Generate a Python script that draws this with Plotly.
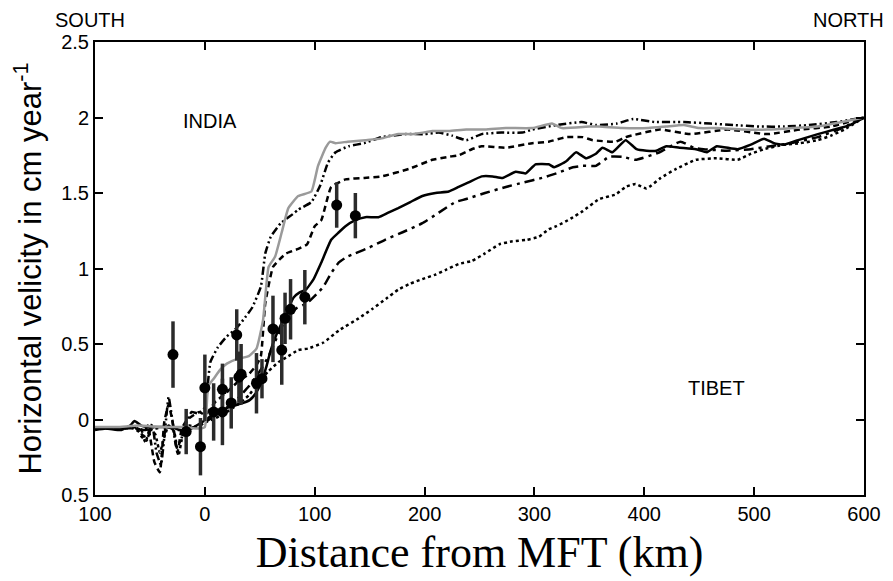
import plotly.graph_objects as go

# === Dados === #
# modelo 1 (cinza, continuo)
gray_x = [-100, -80, -60, -40, -20, -5, 0, 3, 8, 14, 20, 29, 40, 47, 53, 58, 64, 70, 76, 85, 97, 103, 110,
          114, 119, 130, 146, 160, 176, 190, 207, 222, 238, 255, 274, 298, 316, 325, 350, 359, 380, 404,
          420, 436, 450, 466, 490, 512, 535, 558, 580, 600]
gray_y = [-0.05, -0.05, -0.04, -0.05, -0.05, -0.06, -0.05, 0.22, 0.27, 0.33, 0.37, 0.40, 0.42, 0.47, 0.66,
          1.01, 1.08, 1.24, 1.40, 1.48, 1.51, 1.68, 1.80, 1.84, 1.83, 1.84, 1.85, 1.86, 1.89, 1.89, 1.91,
          1.91, 1.92, 1.92, 1.93, 1.93, 1.96, 1.93, 1.94, 1.94, 1.93, 1.93, 1.94, 1.95, 1.93, 1.93, 1.92,
          1.92, 1.93, 1.94, 1.97, 2.00]

# modelo 2 (traco-ponto-ponto)
ddd_x = [-100, -80, -65, -58, -53, -48, -44, -40, -36, -33, -30, -26, -22, -17, -12, -6, 0, 5, 12, 20, 28,
         35, 43, 51, 55, 60, 69, 80, 85, 97, 105, 112, 119, 131, 145, 161, 183, 200, 213, 225, 238, 252,
         270, 289, 298, 320, 343, 356, 375, 390, 410, 436, 460, 481, 505, 527, 550, 575, 600]
ddd_y = [-0.06, -0.06, -0.05, -0.07, -0.14, -0.03, -0.22, -0.30, -0.05, 0.15, 0.02, -0.18, -0.14, -0.02,
         0.05, 0.04, 0.08, 0.38, 0.48, 0.55, 0.60, 0.66, 0.74, 0.88, 1.10, 1.21, 1.30, 1.36, 1.39, 1.44,
         1.55, 1.70, 1.77, 1.81, 1.83, 1.87, 1.89, 1.89, 1.90, 1.88, 1.85, 1.89, 1.90, 1.90, 1.92, 1.95,
         1.97, 1.95, 1.96, 1.99, 1.97, 1.97, 1.96, 1.95, 1.94, 1.94, 1.95, 1.97, 2.00]

# modelo 3 (tracejado curto)
dash_x = [-100, -80, -62, -57, -52, -46, -41, -37, -33, -29, -25, -21, -16, -10, -5, 0, 10, 20, 30, 40, 47,
          51, 55, 62, 68, 74, 85, 93, 100, 106, 115, 128, 145, 161, 186, 207, 222, 231, 243, 252, 274,
          298, 313, 329, 344, 353, 374, 383, 414, 442, 476, 512, 542, 570, 600]
dash_y = [-0.06, -0.06, -0.06, -0.12, -0.04, -0.28, -0.35, -0.02, 0.10, -0.03, -0.22, -0.06, 0.00, 0.03,
          0.05, 0.03, 0.12, 0.18, 0.25, 0.30, 0.36, 0.42, 0.77, 1.01, 1.06, 1.10, 1.13, 1.16, 1.28, 1.32,
          1.54, 1.59, 1.60, 1.61, 1.66, 1.72, 1.74, 1.75, 1.79, 1.81, 1.80, 1.83, 1.84, 1.87, 1.87, 1.85,
          1.84, 1.87, 1.92, 1.89, 1.92, 1.89, 1.92, 1.94, 2.00]

# modelo 4 (preto, continuo)
solid_x = [-100, -90, -76, -68, -64, -58, -50, -40, -31, -18, -10, -3, 9, 18, 26, 35, 41, 46, 51, 56, 60,
           65, 70, 76, 81, 86, 92, 99, 106, 115, 122, 128, 137, 146, 158, 167, 176, 187, 198, 210, 222,
           231, 240, 252, 262, 271, 283, 292, 301, 313, 318, 329, 338, 347, 356, 362, 371, 383, 393, 402,
           411, 420, 432, 447, 457, 466, 485, 497, 509, 518, 527, 540, 558, 573, 587, 600]
solid_y = [-0.07, -0.06, -0.07, -0.04, -0.01, -0.04, -0.05, -0.05, -0.05, -0.08, -0.05, -0.02, 0.04, 0.07,
           0.09, 0.11, 0.13, 0.17, 0.24, 0.35, 0.46, 0.56, 0.64, 0.74, 0.81, 0.84, 0.86, 0.93, 1.04, 1.19,
           1.24, 1.28, 1.32, 1.34, 1.34, 1.37, 1.40, 1.44, 1.48, 1.50, 1.51, 1.54, 1.57, 1.61, 1.61, 1.60,
           1.64, 1.63, 1.69, 1.69, 1.67, 1.71, 1.77, 1.73, 1.76, 1.80, 1.77, 1.85, 1.79, 1.78, 1.78, 1.81,
           1.80, 1.79, 1.77, 1.81, 1.79, 1.82, 1.86, 1.83, 1.82, 1.85, 1.89, 1.92, 1.95, 2.00]

# modelo 5 (traco-ponto)
dd_x = [-100, -80, -65, -55, -45, -35, -25, -15, -5, 0, 10, 20, 30, 40, 50, 58, 66, 72, 78, 84, 90, 96, 103,
        108, 115, 122, 130, 137, 150, 164, 180, 198, 213, 228, 238, 255, 274, 290, 307, 320, 335, 344, 356,
        368, 380, 392, 414, 433, 445, 454, 475, 497, 515, 533, 558, 580, 600]
dd_y = [-0.06, -0.06, -0.05, -0.07, -0.06, -0.05, -0.07, -0.06, -0.04, -0.02, 0.03, 0.08, 0.14, 0.22, 0.32,
        0.42, 0.55, 0.64, 0.70, 0.74, 0.76, 0.79, 0.84, 0.88, 0.97, 1.04, 1.08, 1.10, 1.14, 1.19, 1.24, 1.30,
        1.37, 1.44, 1.46, 1.50, 1.54, 1.57, 1.60, 1.63, 1.67, 1.68, 1.68, 1.74, 1.74, 1.72, 1.77, 1.84, 1.80,
        1.79, 1.78, 1.79, 1.81, 1.83, 1.87, 1.93, 2.00]

# modelo 6 (pontilhado)
dot_x = [-100, -80, -65, -58, -54, -50, -45, -41, -37, -33, -28, -24, -20, -14, -8, 0, 10, 20, 30, 40, 49,
         58, 67, 74, 85, 94, 108, 122, 140, 152, 165, 176, 187, 198, 210, 219, 231, 243, 255, 268, 280, 293,
         304, 313, 320, 333, 344, 359, 374, 383, 392, 402, 415, 429, 447, 466, 485, 497, 509, 527, 542, 558,
         570, 582, 600]
dot_y = [-0.06, -0.06, -0.06, -0.09, -0.15, -0.06, -0.10, -0.22, -0.12, -0.04, -0.08, -0.24, -0.10, -0.04,
         -0.05, -0.02, 0.01, 0.05, 0.10, 0.16, 0.25, 0.32, 0.38, 0.41, 0.46, 0.47, 0.51, 0.59, 0.67, 0.73,
         0.80, 0.86, 0.90, 0.93, 0.96, 0.99, 1.03, 1.05, 1.10, 1.16, 1.18, 1.19, 1.21, 1.26, 1.28, 1.33, 1.38,
         1.46, 1.49, 1.54, 1.56, 1.53, 1.60, 1.66, 1.72, 1.73, 1.72, 1.76, 1.79, 1.82, 1.83, 1.85, 1.88, 1.92,
         2.00]

# observacoes GPS
obs_x = [-29, -17, -4, 0, 8, 16, 16, 24, 29, 31, 33, 47, 52, 62, 70, 73, 78, 91, 120, 137]
obs_y = [0.43, -0.08, -0.18, 0.21, 0.05, 0.05, 0.20, 0.11, 0.56, 0.28, 0.30, 0.24, 0.27, 0.60, 0.46, 0.67,
         0.73, 0.81, 1.42, 1.35]
obs_err = [0.22, 0.15, 0.19, 0.22, 0.19, 0.22, 0.17, 0.17, 0.17, 0.17, 0.20, 0.20, 0.13, 0.22, 0.23, 0.17,
           0.20, 0.18, 0.15, 0.15]

x_ticks = [-100, 0, 100, 200, 300, 400, 500, 600]
x_ticktext = ["100", "0", "100", "200", "300", "400", "500", "600"]
y_ticks = [-0.5, 0, 0.5, 1, 1.5, 2, 2.5]
y_ticktext = ["0.5", "0", "0.5", "1", "1.5", "2", "2.5"]

# === Plot === #
fig = go.Figure()

modelos = [
    (dot_x, dot_y, "black", "dot", 2.5),
    (dd_x, dd_y, "black", "10px,5px,3px,5px", 2.5),
    (dash_x, dash_y, "black", "6px,4px", 2.5),
    (ddd_x, ddd_y, "black", "8px,3px,2px,3px,2px,3px", 2.5),
    (solid_x, solid_y, "black", "solid", 2.5),
    (gray_x, gray_y, "#9a9a9a", "solid", 2.5),
]
for xs, ys, cor, dash, w in modelos:
    fig.add_trace(
        go.Scatter(
            x=xs,
            y=ys,
            mode="lines",
            line=dict(color=cor, dash=dash, width=w, shape="spline", smoothing=0.4),
            showlegend=False,
        )
    )

fig.add_trace(
    go.Scatter(
        x=obs_x,
        y=obs_y,
        mode="markers",
        marker=dict(color="black", size=11),
        error_y=dict(type="data", array=obs_err, visible=True, color="#2b2b2b", thickness=3.5, width=0),
        showlegend=False,
    )
)

fonte = "Liberation Sans, Arial, sans-serif"
rotulo = dict(family=fonte, size=20, color="black")
fig.add_annotation(x=-0.007, y=1.049, xref="paper", yref="paper", text="SOUTH", showarrow=False,
                   xanchor="center", yanchor="middle", font=rotulo)
fig.add_annotation(x=0.98, y=1.049, xref="paper", yref="paper", text="NORTH", showarrow=False,
                   xanchor="center", yanchor="middle", font=rotulo)
fig.add_annotation(x=5, y=1.98, text="INDIA", showarrow=False, font=rotulo)
fig.add_annotation(x=466, y=0.21, text="TIBET", showarrow=False, font=rotulo)

eixo = dict(
    showgrid=False,
    zeroline=False,
    showline=True,
    linecolor="black",
    linewidth=2,
    mirror="ticks",
    ticks="inside",
    ticklen=8,
    tickwidth=1.5,
    tickcolor="black",
    automargin=False,
    tickfont=dict(family=fonte, size=20, color="black"),
)

# a pagina tem 8px de margem no body, por isso o desconto
fig.update_layout(
    width=885,
    height=573,
    margin=dict(l=87, r=29, t=34, b=86),
    plot_bgcolor="white",
    paper_bgcolor="white",
    xaxis=dict(
        eixo,
        range=[-100, 600],
        tickvals=x_ticks,
        ticktext=x_ticktext,
        title=dict(text="Distance from MFT (km)",
                   font=dict(family="Liberation Serif, Times New Roman, serif", size=44, color="black"),
                   standoff=12),
    ),
    yaxis=dict(
        eixo,
        range=[-0.5, 2.5],
        tickvals=y_ticks,
        ticktext=y_ticktext,
        title=dict(text="Horizontal velicity in cm year<sup>-1</sup>",
                   font=dict(family=fonte, size=31, color="black"),
                   standoff=16),
    ),
)

fig.write_html("out.html")
